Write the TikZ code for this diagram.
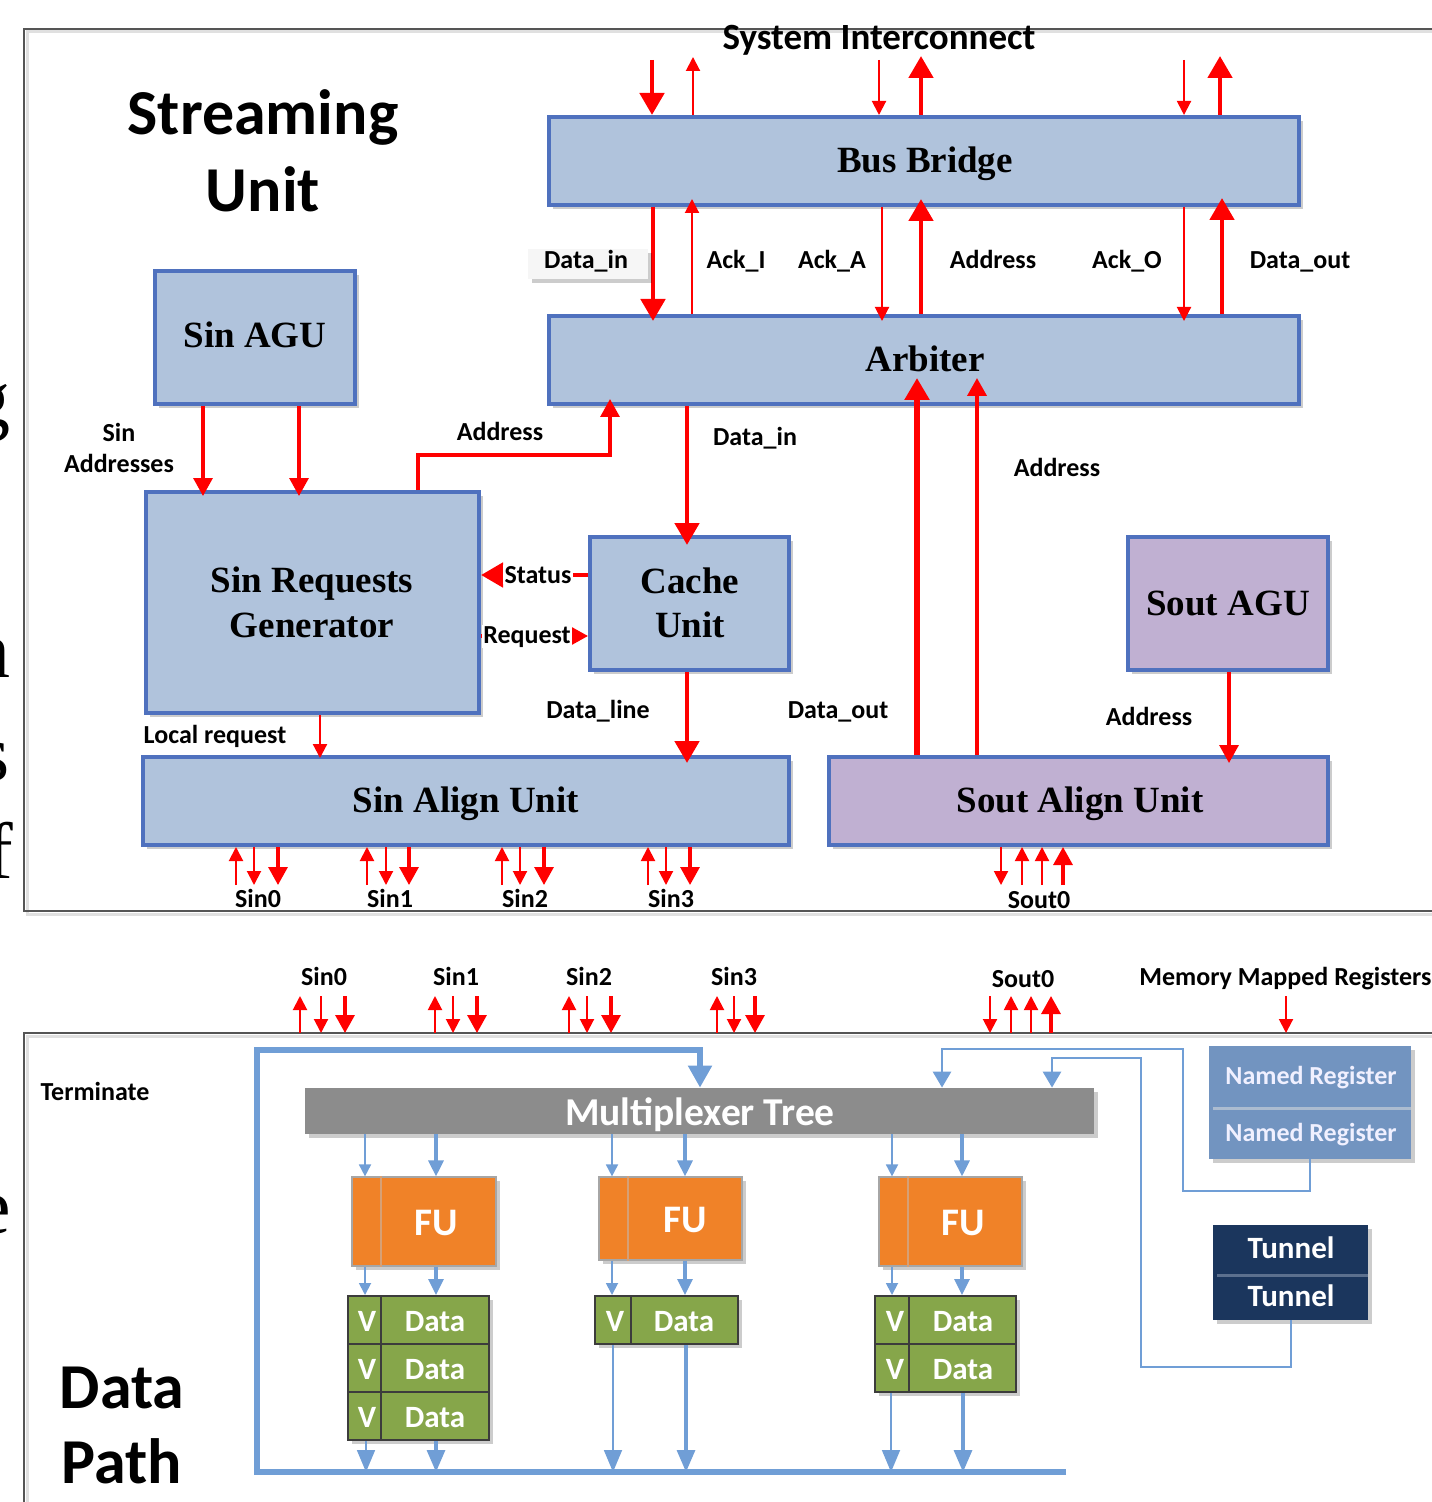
\documentclass[tikz,border=0pt]{standalone}
\usepackage{fontspec}
\setmainfont{Liberation Serif}
\newfontfamily\calib{Carlito}
\usetikzlibrary{arrows.meta,shadows,fit,calc}

\definecolor{boxblue}{RGB}{176,195,220}
\definecolor{edgeblue}{RGB}{79,113,190}
\definecolor{lav}{RGB}{192,176,210}
\definecolor{linkblue}{RGB}{112,158,214}
\definecolor{muxgray}{RGB}{140,140,140}
\definecolor{fuorange}{RGB}{240,130,40}
\definecolor{fudiv}{RGB}{214,160,118}
\definecolor{cellgreen}{RGB}{134,166,74}
\definecolor{celledge}{RGB}{60,60,60}
\definecolor{nrblue}{RGB}{114,148,192}
\definecolor{nrdiv}{RGB}{172,188,208}
\definecolor{navy}{RGB}{27,54,93}
\definecolor{navydiv}{RGB}{92,112,142}
\definecolor{framegray}{RGB}{85,85,85}

\tikzset{
  shad/.style={drop shadow={shadow xshift=2pt,shadow yshift=-2pt,opacity=0.2,fill=black}},
  blk/.style={fit={#1},inner sep=0pt,draw=edgeblue,line width=2pt,fill=boxblue,shad},
  bt/.style={font=\bfseries\fontsize{18.5}{22.5}\selectfont,inner sep=0pt,anchor=base},
  lbl/.style={font=\calib\bfseries\fontsize{13}{15}\selectfont,inner sep=0pt,anchor=base},
  ttl/.style={font=\calib\bfseries\fontsize{32}{36}\selectfont,inner sep=0pt,anchor=base},
  edgeletter/.style={font=\fontsize{40}{40}\selectfont,inner sep=0pt,anchor=base east},
  rA/.style={draw=red,line width=1pt,-{Triangle[length=7pt,width=7pt]}},
  rB/.style={draw=red,line width=1.6pt,-{Triangle[length=9pt,width=9.5pt]}},
  rC/.style={draw=red,line width=2.4pt,-{Triangle[length=11pt,width=12pt]}},
  bA/.style={draw=linkblue,line width=0.9pt,-{Triangle[length=6pt,width=6pt]}},
  bB/.style={draw=linkblue,line width=1.6pt,-{Triangle[length=8pt,width=7.5pt]}},
  bC/.style={draw=linkblue,line width=0.9pt,-{Triangle[length=11pt,width=9pt]}},
  bD/.style={draw=linkblue,line width=1.6pt,-{Triangle[length=11pt,width=9pt]}},
  loopln/.style={draw=linkblue,line width=2.6pt,-{Triangle[length=11pt,width=11.5pt]}},
  wire/.style={draw=linkblue,line width=1.4pt,-{Triangle[length=8pt,width=9pt]}},
  fubox/.style={fit={#1},inner sep=0pt,fill=fuorange,draw=black!35,line width=0.6pt,shad},
  futxt/.style={font=\calib\bfseries\fontsize{19.5}{22}\selectfont,text=white,inner sep=0pt,anchor=base},
  cell/.style={fit={#1},inner sep=0pt,fill=cellgreen,draw=celledge,line width=1pt,shad},
  celltxt/.style={font=\calib\bfseries\fontsize{15.5}{18}\selectfont,text=white,inner sep=0pt,anchor=base},
}

\begin{document}
\begin{tikzpicture}[x=0.5pt,y=-0.5pt]
\useasboundingbox (0,0) rectangle (1431,1502);

% ---------- fragments of page text cut at the left edge ----------
\begin{scope}
\clip (0,0) rectangle (23,1502);
\node[edgeletter] (lg) at (11,426) {g};
\node[edgeletter] (ln) at (11,677) {n};
\node[edgeletter] (ls) at (10,780) {s};
\node[edgeletter] (lf) at (14,878) {f};
\node[edgeletter] (le) at (11,1233) {e};
\end{scope}

% ---------- streaming unit frame ----------
\draw[black!12,line width=1.5pt] (1440,32) -- (27,32) -- (27,914) -- (1440,914);
\draw[framegray,line width=0.8pt] (1440,29) -- (24,29) -- (24,911) -- (1440,911);

\node[ttl] (t1) at (263,135) {Streaming};
\node[ttl] (t2) at (263,212) {Unit};
\node[lbl,font=\calib\bfseries\fontsize{18.5}{21}\selectfont] (lsi) at (879,50) {System Interconnect};

% ---------- blocks ----------
\node[blk={(549,117) (1299,205)}] (bb) {};
\node[bt] (bbt) at (925,173) {Bus Bridge};
\node[blk={(549,316) (1299,404)}] (arb) {};
\node[bt] (arbt) at (925,372) {Arbiter};
\node[blk={(155,271) (355,404)}] (sagu) {};
\node[bt] (sagut) at (255,348) {Sin AGU};
\node[blk={(146,492) (479,713)}] (srg) {};
\node[bt] (srgt1) at (312,592) {Sin Requests};
\node[bt] (srgt2) at (312,637) {Generator};
\node[blk={(590,537) (789,670)}] (cu) {};
\node[bt] (cut1) at (690,593) {Cache};
\node[bt] (cut2) at (690,637) {Unit};
\node[blk={(143,757) (789,845)}] (sal) {};
\node[bt] (salt) at (466,812) {Sin Align Unit};
\node[blk={(1128,537) (1328,670)},fill=lav] (soagu) {};
\node[bt] (soagut) at (1228,615) {Sout AGU};
\node[blk={(829,757) (1328,845)},fill=lav] (soal) {};
\node[bt] (soalt) at (1080,812) {Sout Align Unit};

% ---------- system interconnect <-> bus bridge ----------
\draw[rC] (bb.north -| 652,0) ++(0,-55) -- ++(0,55);
\draw[rA] (bb.north -| 693,0) -- ++(0,-58);
\draw[rA] (bb.north -| 879,0) ++(0,-55) -- ++(0,55);
\draw[rC] (bb.north -| 921,0) -- ++(0,-59);
\draw[rA] (bb.north -| 1184,0) ++(0,-55) -- ++(0,55);
\draw[rC] (bb.north -| 1220,0) -- ++(0,-59);

% ---------- bus bridge <-> arbiter ----------
\draw[rC,shorten >=-3.5pt] (bb.south -| 653,0) -- (arb.north -| 653,0);
\draw[rA,shorten >=-4pt] (arb.north -| 692,0) -- (bb.south -| 692,0);
\draw[rA,shorten >=-3.5pt] (bb.south -| 882,0) -- (arb.north -| 882,0);
\draw[rC,shorten >=-4pt] (arb.north -| 921,0) -- (bb.south -| 921,0);
\draw[rA,shorten >=-3.5pt] (bb.south -| 1184,0) -- (arb.north -| 1184,0);
\draw[rC,shorten >=-4.5pt] (arb.north -| 1222,0) -- (bb.south -| 1222,0);

\node[fit={(528,249) (648,279)},inner sep=0pt,fill=gray!7,shad] (dinbox) {};
\node[lbl] (ldin) at (586,269) {Data\_in};
\node[lbl] (lacki) at (736,269) {Ack\_I};
\node[lbl] (lacka) at (832,269) {Ack\_A};
\node[lbl] (laddr1) at (993,269) {Address};
\node[lbl] (lacko) at (1127,269) {Ack\_O};
\node[lbl] (ldout1) at (1300,269) {Data\_out};

% ---------- sin side ----------
\draw[rB,shorten >=-3pt] (sagu.south -| 203,0) -- (srg.north -| 203,0);
\draw[rB,shorten >=-3pt] (sagu.south -| 299,0) -- (srg.north -| 299,0);
\node[lbl] (lsin) at (119,442) {Sin};
\node[lbl] (lsinad) at (119,472) {Addresses};

\draw[rB,shorten >=-3.5pt] (srg.north -| 418,0) -- (418,455) -- (610,455) -- (arb.south -| 610,0);
\node[lbl] (laddr2) at (500,440) {Address};

\draw[rC,shorten >=-5pt] (arb.south -| 687,0) -- (cu.north -| 687,0);
\node[lbl] (ldin2) at (755,445) {Data\_in};

\draw[rC] (cu.west |- 0,575) -- (srg.east |- 0,575);
\node[lbl,fill=white,inner sep=0.6pt] (lstat) at (538,583) {Status};
\draw[rB] (srg.east |- 0,636) -- (cu.west |- 0,636);
\node[lbl,fill=white,inner sep=0.6pt] (lreq) at (527,643) {Request};

\draw[rC,shorten >=-4pt] (cu.south -| 687,0) -- (sal.north -| 687,0);
\node[lbl] (ldline) at (598,718) {Data\_line};

\draw[rA,line width=1.1pt,shorten >=-1.5pt] (srg.south -| 320,0) -- (sal.north -| 320,0);
\node[lbl] (llocal) at (215,743) {Local request};

% ---------- sout side ----------
\draw[rC,line width=2.7pt,shorten >=-14pt] (soal.north -| 917,0) -- (arb.south -| 917,0);
\draw[rB,line width=1.9pt,shorten >=-14pt] (soal.north -| 977,0) -- (arb.south -| 977,0);
\node[lbl] (ldout2) at (838,718) {Data\_out};
\node[lbl] (laddr3) at (1057,476) {Address};

\draw[rB,shorten >=-4pt] (soagu.south -| 1229,0) -- (soal.north -| 1229,0);
\node[lbl] (laddr4) at (1149,725) {Address};

% ---------- stream ports of the align units ----------
\foreach \a/\b/\c/\n/\t in {236/254/278/0/258, 367/386/409/1/390, 502/520/544/2/525, 648/666/690/3/671}{
  \draw[rA] (sal.south -| \a,0) ++(0,38) -- ++(0,-38);
  \draw[rA] (sal.south -| \b,0) -- ++(0,38);
  \draw[rB] (sal.south -| \c,0) -- ++(0,38);
  \node[lbl] (lsinport\n) at (\t,907) {Sin\n};
}
\draw[rA] (soal.south -| 1001,0) -- ++(0,38);
\draw[rA] (soal.south -| 1022,0) ++(0,38) -- ++(0,-38);
\draw[rA] (soal.south -| 1042,0) ++(0,38) -- ++(0,-38);
\draw[rB] (soal.south -| 1063,0) ++(0,38) -- ++(0,-38);
\node[lbl] (lsoutport) at (1039,908) {Sout0};

% ---------- data path frame ----------
\draw[black!12,line width=1.5pt] (1440,1036) -- (27,1036) -- (27,1510);
\draw[framegray,line width=0.8pt] (1440,1033) -- (24,1033) -- (24,1510);
\coordinate (dpt) at (24,1033);

\foreach \a/\b/\c/\n/\t in {300/321/345/0/324, 435/453/477/1/456, 569/587/611/2/589, 717/734/755/3/734}{
  \draw[rA] (dpt -| \a,0) -- ++(0,-37);
  \draw[rA] (dpt -| \b,0) ++(0,-37) -- ++(0,37);
  \draw[rB] (dpt -| \c,0) ++(0,-37) -- ++(0,37);
  \node[lbl] (ldpsin\n) at (\t,985) {Sin\n};
}
\draw[rA] (dpt -| 990,0) ++(0,-37) -- ++(0,37);
\draw[rA] (dpt -| 1011,0) -- ++(0,-37);
\draw[rA] (dpt -| 1031,0) -- ++(0,-37);
\draw[rB] (dpt -| 1051,0) -- ++(0,-37);
\node[lbl] (ldpsout) at (1023,987) {Sout0};
\draw[rA] (dpt -| 1286,0) ++(0,-37) -- ++(0,37);
\node[lbl,anchor=base west] (lmmr) at (1139,985) {Memory Mapped Registers};

\node[lbl] (lterm) at (95,1100) {Terminate};
\node[ttl] (t3) at (122,1408) {Data};
\node[ttl] (t4) at (122,1483) {Path};

% ---------- multiplexer tree ----------
\node[fit={(305,1088) (1094,1134)},inner sep=0pt,fill=muxgray,shad] (mux) {};
\node[font=\calib\bfseries\fontsize{19.75}{22}\selectfont,text=white,inner sep=0pt,anchor=base] (muxt) at (700,1125) {Multiplexer Tree};

% ---------- registers ----------
\node[fit={(1209,1046) (1411,1159)},inner sep=0pt,fill=nrblue,shad] (nr) {};
\draw[nrdiv,line width=1.5pt] (1213,1108) -- (1411,1108);
\node[lbl,text=white!94!blue] (nr1) at (1311,1084) {Named Register};
\node[lbl,text=white!94!blue] (nr2) at (1311,1141) {Named Register};

\node[fit={(1213,1225) (1368,1320)},inner sep=0pt,fill=navy,shad] (tn) {};
\draw[navydiv,line width=1.5pt] (1217,1275) -- (1368,1275);
\node[lbl,text=white,font=\calib\bfseries\fontsize{15.5}{18}\selectfont] (tn1) at (1291,1258) {Tunnel};
\node[lbl,text=white,font=\calib\bfseries\fontsize{15.5}{18}\selectfont] (tn2) at (1291,1306) {Tunnel};

% ---------- FUs ----------
\node[fubox={(352,1177) (496,1266)}] (fu1) {};
\draw[fudiv,line width=1.4pt] (381,0 |- fu1.north) -- (381,0 |- fu1.south);
\node[futxt] (fu1t) at (436,1235) {FU};
\node[fubox={(599,1177) (742,1260)}] (fu2) {};
\draw[fudiv,line width=1.4pt] (628,0 |- fu2.north) -- (628,0 |- fu2.south);
\node[futxt] (fu2t) at (685,1232) {FU};
\node[fubox={(879,1177) (1022,1266)}] (fu3) {};
\draw[fudiv,line width=1.4pt] (908,0 |- fu3.north) -- (908,0 |- fu3.south);
\node[futxt] (fu3t) at (963,1235) {FU};

% ---------- data cells ----------
\node[cell={(348,1296) (381,1344)}] (v11) {};
\node[cell={(381,1296) (489,1344)}] (d11) {};
\node[cell={(348,1344) (381,1392)}] (v12) {};
\node[cell={(381,1344) (489,1392)}] (d12) {};
\node[cell={(348,1392) (381,1440)}] (v13) {};
\node[cell={(381,1392) (489,1440)}] (d13) {};
\node[cell={(595,1296) (631,1344)}] (v21) {};
\node[cell={(631,1296) (738,1344)}] (d21) {};
\node[cell={(875,1296) (909,1344)}] (v31) {};
\node[cell={(909,1296) (1016,1344)}] (d31) {};
\node[cell={(875,1344) (909,1392)}] (v32) {};
\node[cell={(909,1344) (1016,1392)}] (d32) {};

\foreach \vx/\dx/\y/\n in {367/435/1331/a, 367/435/1379/b, 367/435/1427/c, 615/684/1331/d, 895/963/1331/e, 895/963/1379/f}{
  \node[celltxt] (vt\n) at (\vx,\y) {V};
  \node[celltxt] (dt\n) at (\dx,\y) {Data};
}

% ---------- blue connectors ----------
\coordinate (busL) at (257,1472);
\coordinate (busR) at (1066,1472);
\draw[loopln] (busR) -- (busL) -- (257,1050) -- (700,1050) -- (mux.north -| 700,0);

\draw[wire] (nr.south -| 1310,0) -- (1310,1191) -- (1183,1191) -- (1183,1049) -- (942,1049) -- (mux.north -| 942,0);
\draw[wire] (tn.south -| 1291,0) -- (1291,1367) -- (1141,1367) -- (1141,1058) -- (1052,1058) -- (mux.north -| 1052,0);

\foreach \f/\a/\b/\v/\d in {fu1/365/436/v11/d11, fu2/612/685/v21/d21, fu3/892/962/v31/d31}{
  \draw[bA] (mux.south -| \a,0) -- (\f.north -| \a,0);
  \draw[bB] (mux.south -| \b,0) -- (\f.north -| \b,0);
  \draw[bA] (\f.south -| \a,0) -- (\v.north -| \a,0);
  \draw[bB] (\f.south -| \b,0) -- (\d.north -| \b,0);
}
\foreach \a/\b/\v/\d in {366/436/v13/d13, 613/686/v21/d21, 891/963/v32/d32}{
  \draw[bC] (\v.south -| \a,0) -- (busL -| \a,0);
  \draw[bD] (\d.south -| \b,0) -- (busL -| \b,0);
}
\end{tikzpicture}
\end{document}
